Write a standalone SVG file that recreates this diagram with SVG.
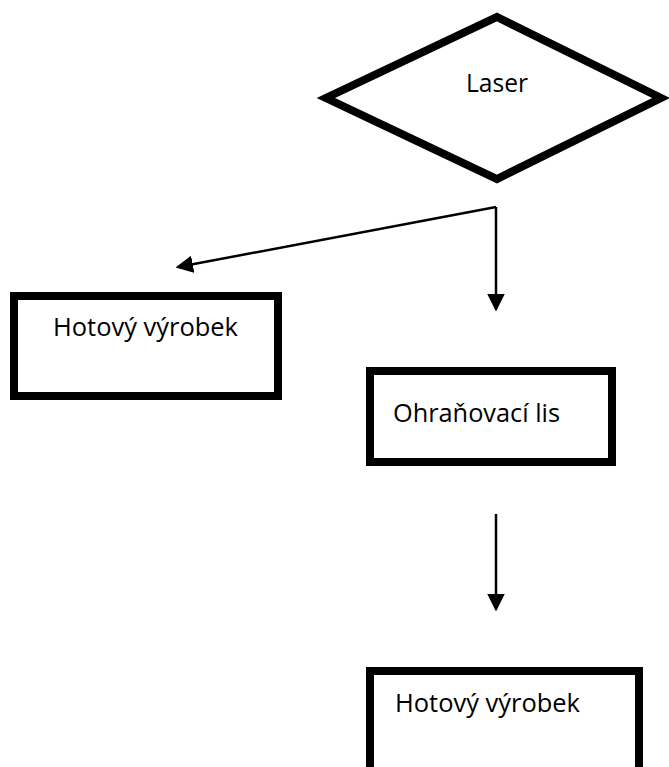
<svg xmlns="http://www.w3.org/2000/svg" width="669" height="767" viewBox="0 0 669 767">
<style>
.shape{fill:#fff;stroke:#000;stroke-width:8;stroke-linejoin:miter}
.lbl{font-family:"Open Sans","Liberation Sans",sans-serif;font-size:25px;fill:#000}
.conn{stroke:#000;stroke-width:2.5;fill:none}
</style>
<defs>
<marker id="ah" markerWidth="7" markerHeight="7" refX="6" refY="3.5" orient="auto" markerUnits="strokeWidth">
<path d="M0,0 L7,3.5 L0,7 Z" fill="#000"/>
</marker>
</defs>
<rect width="669" height="767" fill="#fff"/>
<g id="laser">
<polygon class="shape" points="497,17 661,98 497,179 326,98" stroke-width="7"/>
<text class="lbl" x="466" y="92" textLength="62" lengthAdjust="spacingAndGlyphs">Laser</text>
</g>
<g id="hotovy1">
<rect class="shape" x="14" y="296" width="264" height="100"/>
<text class="lbl" x="53" y="336" textLength="185" lengthAdjust="spacingAndGlyphs">Hotový výrobek</text>
</g>
<g id="ohranovaci">
<rect class="shape" x="370" y="371" width="242" height="91"/>
<text class="lbl" x="393" y="422" textLength="167" lengthAdjust="spacingAndGlyphs">Ohraňovací lis</text>
</g>
<g id="hotovy2">
<rect class="shape" x="370" y="671" width="269" height="110"/>
<text class="lbl" x="395" y="712" textLength="185" lengthAdjust="spacingAndGlyphs">Hotový výrobek</text>
</g>
<g id="connectors">
<path class="conn" d="M496,207 L178,267" marker-end="url(#ah)"/>
<path class="conn" d="M496,207 L496,309" marker-end="url(#ah)"/>
<path class="conn" d="M496,514 L496,609" marker-end="url(#ah)"/>
</g>
</svg>
